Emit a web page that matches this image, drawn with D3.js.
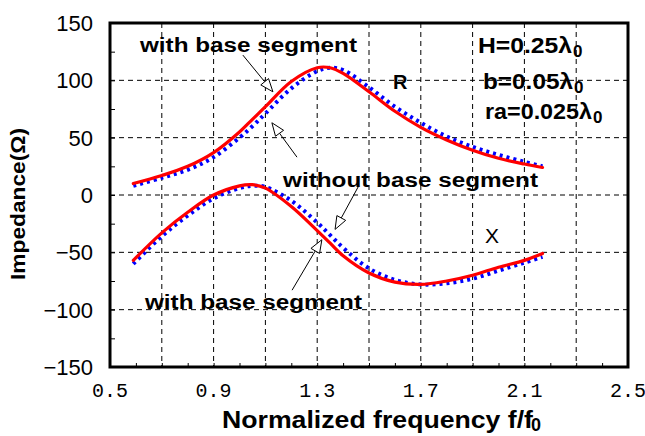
<!DOCTYPE html>
<html>
<head>
<meta charset="utf-8">
<script src="https://cdn.jsdelivr.net/npm/d3@7"></script>
<style>
  body { margin: 0; background: #fff; }
  svg { display: block; }
</style>
</head>
<body>
<script>
var W = 645, H = 436;
var M = {left: 110, right: 17, top: 23, bottom: 69};

// normalized frequency samples
var freq = [0.59, 0.7, 0.8, 0.9, 1.0, 1.05, 1.1, 1.2, 1.3, 1.35, 1.4, 1.5, 1.6, 1.7, 1.8, 1.9, 2.0, 2.1, 2.17];
// resistance R (ohm)
var rWith    = [10, 17, 25, 37, 55, 66, 77, 99, 111, 111, 106, 90, 73, 59, 48, 39, 32, 27, 24];
var rWithout = [8, 15, 22, 33, 50, 60, 71, 93, 108, 111, 109, 94, 77, 63, 51, 42, 35, 29, 25];
// reactance X (ohm)
var xWith    = [-57, -33, -15, 0, 8, 9, 6, -10, -31, -42, -53, -68, -76, -78, -75, -70, -63, -57, -51];
var xWithout = [-60, -36, -18, -3, 6, 8, 7, -5, -24, -35, -46, -64, -74, -78, -77, -73, -66, -59, -54];

var xTickLabels = [0.5, 0.9, 1.3, 1.7, 2.1, 2.5];
var xGrid = [0.7, 0.9, 1.1, 1.3, 1.5, 1.7, 1.9, 2.1, 2.3];
var yTickLabels = [150, 100, 50, 0, -50, -100, -150];
var yGrid = [100, 50, 0, -50, -100];

function main() {
  var svg = d3.select("body").append("svg")
    .attr("width", W)
    .attr("height", H);

  var x = d3.scaleLinear().domain([0.5, 2.5]).range([M.left, W - M.right]);
  var y = d3.scaleLinear().domain([-150, 150]).range([H - M.bottom, M.top]);

  var font = "'Liberation Sans', Arial, sans-serif";

  // grid
  svg.append("g").selectAll("line").data(xGrid).enter().append("line")
    .attr("x1", function(d) { return x(d); }).attr("x2", function(d) { return x(d); })
    .attr("y1", y(150)).attr("y2", y(-150))
    .attr("stroke", "#000").attr("stroke-width", 1).attr("stroke-dasharray", "5,4");
  svg.append("g").selectAll("line").data(yGrid).enter().append("line")
    .attr("x1", x(0.5)).attr("x2", x(2.5))
    .attr("y1", function(d) { return y(d); }).attr("y2", function(d) { return y(d); })
    .attr("stroke", "#000").attr("stroke-width", 1).attr("stroke-dasharray", "5,4");

  // small inner ticks
  var yAxis = d3.axisRight(y).tickValues(d3.range(-150, 151, 25)).tickSize(5).tickFormat("");
  svg.append("g").attr("transform", "translate(" + x(0.5) + ",0)").call(yAxis)
    .call(function(g) { g.select(".domain").remove(); });
  var xAxis = d3.axisTop(x).tickValues(d3.range(6, 25).map(function(d) { return d / 10; })).tickSize(4).tickFormat("");
  svg.append("g").attr("transform", "translate(0," + y(-150) + ")").call(xAxis)
    .call(function(g) { g.select(".domain").remove(); });

  // frame
  svg.append("rect")
    .attr("x", x(0.5)).attr("y", y(150))
    .attr("width", x(2.5) - x(0.5)).attr("height", y(-150) - y(150))
    .attr("fill", "none").attr("stroke", "#000").attr("stroke-width", 3);

  // tick labels
  svg.append("g").selectAll("text").data(yTickLabels).enter().append("text")
    .attr("x", 93).attr("y", function(d) { return y(d); }).attr("dy", "0.36em")
    .attr("text-anchor", "end")
    .style("font-family", font).style("font-size", "22px")
    .text(function(d) { return d < 0 ? "\u2212" + Math.abs(d) : d; });
  svg.append("g").selectAll("text").data(xTickLabels).enter().append("text")
    .attr("x", function(d) { return x(d); }).attr("y", 397)
    .attr("text-anchor", "middle")
    .style("font-family", "'Liberation Mono', 'DejaVu Sans Mono', monospace").style("font-size", "20px")
    .text(function(d) { return d.toFixed(1); });

  // curves
  var line = d3.line()
    .x(function(d) { return x(d[0]); })
    .y(function(d) { return y(d[1]); })
    .curve(d3.curveCatmullRom.alpha(0.5));

  function pairs(vals) { return freq.map(function(f, i) { return [f, vals[i]]; }); }

  [rWithout, xWithout].forEach(function(s) {
    svg.append("path").attr("d", line(pairs(s)))
      .attr("fill", "none").attr("stroke", "#0000ff").attr("stroke-width", 4)
      .attr("stroke-dasharray", "3,4");
  });
  [rWith, xWith].forEach(function(s) {
    svg.append("path").attr("d", line(pairs(s)))
      .attr("fill", "none").attr("stroke", "#ff0000").attr("stroke-width", 3.2)
      .attr("stroke-linecap", "round");
  });

  // axis titles
  svg.append("text")
    .attr("transform", "translate(25,204) rotate(-90)")
    .attr("text-anchor", "middle")
    .attr("textLength", 152).attr("lengthAdjust", "spacingAndGlyphs")
    .style("font-family", font).style("font-size", "20px").style("font-weight", "bold")
    .text("Impedance(\u03a9)");
  svg.append("text")
    .attr("x", 222).attr("y", 428)
    .attr("textLength", 311).attr("lengthAdjust", "spacingAndGlyphs")
    .style("font-family", font).style("font-size", "23px").style("font-weight", "bold")
    .text("Normalized frequency f/f");
  svg.append("text")
    .attr("x", 531).attr("y", 431)
    .style("font-family", font).style("font-size", "18px").style("font-weight", "bold")
    .text("0");

  // annotations
  var bold = function(sel, size) {
    return sel.style("font-family", font)
      .style("font-size", size + "px").style("font-weight", "bold");
  };
  bold(svg.append("text").attr("x", 140).attr("y", 52)
    .attr("textLength", 217).attr("lengthAdjust", "spacingAndGlyphs"), 20).text("with base segment");
  bold(svg.append("text").attr("x", 283).attr("y", 187)
    .attr("textLength", 255).attr("lengthAdjust", "spacingAndGlyphs"), 20).text("without base segment");
  bold(svg.append("text").attr("x", 145).attr("y", 309)
    .attr("textLength", 217).attr("lengthAdjust", "spacingAndGlyphs"), 20).text("with base segment");
  bold(svg.append("text").attr("x", 393).attr("y", 89), 20).text("R");
  svg.append("text").attr("x", 485).attr("y", 243)
    .style("font-family", font).style("font-size", "21px").text("X");

  var params = [
    {x: 478, y: 53, w: 94, t: "H=0.25\u03bb"},
    {x: 483, y: 89, w: 90, t: "b=0.05\u03bb"},
    {x: 485, y: 119, w: 107, t: "ra=0.025\u03bb"}
  ];
  params.forEach(function(p) {
    bold(svg.append("text").attr("x", p.x).attr("y", p.y)
      .attr("textLength", p.w).attr("lengthAdjust", "spacingAndGlyphs"), 22).text(p.t);
    bold(svg.append("text").attr("x", p.x + p.w + 1).attr("y", p.y + 4), 17).text("0");
  });

  // arrows with hollow heads: [from f, from v, tip f, tip v]
  var arrows = [
    [1.013, 122, 1.129, 90],
    [1.222, 33, 1.125, 63],
    [1.458, 7, 1.369, -30],
    [1.203, -83, 1.318, -39]
  ];
  arrows.forEach(function(a) {
    var x0 = x(a[0]), y0 = y(a[1]), x1 = x(a[2]), y1 = y(a[3]);
    var dx = x1 - x0, dy = y1 - y0, len = Math.sqrt(dx * dx + dy * dy);
    var ux = dx / len, uy = dy / len, hl = 13, hw = 5;
    var bx = x1 - ux * hl, by = y1 - uy * hl;
    svg.append("line").attr("x1", x0).attr("y1", y0).attr("x2", bx).attr("y2", by)
      .attr("stroke", "#000").attr("stroke-width", 1);
    svg.append("polygon")
      .attr("points", [[x1, y1], [bx - uy * hw, by + ux * hw], [bx + uy * hw, by - ux * hw]].join(" "))
      .attr("fill", "#fff").attr("stroke", "#000").attr("stroke-width", 1);
  });
}
main();
</script>
</body>
</html>
